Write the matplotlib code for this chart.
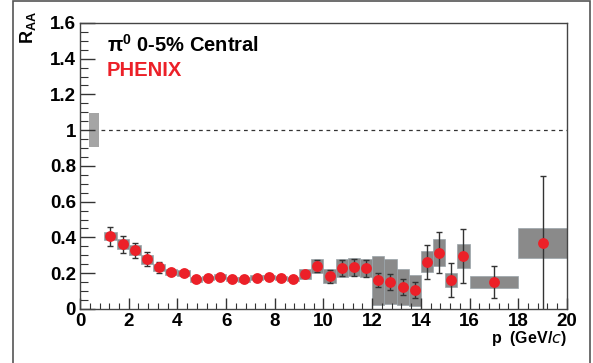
import matplotlib.pyplot as plt
from matplotlib.patches import Rectangle
from matplotlib.ticker import MultipleLocator

# pi0 R_AA, 0-5% central
pt = [1.25, 1.75, 2.25, 2.75, 3.25, 3.75, 4.25, 4.75, 5.25, 5.75, 6.25, 6.75,
      7.25, 7.75, 8.25, 8.75, 9.25, 9.75, 10.25, 10.75, 11.25, 11.75,
      12.25, 12.75, 13.25, 13.75, 14.25, 14.75, 15.25, 15.75, 17.0, 19.0]
bin_w = [0.5] * 30 + [2.0, 2.0]
raa = [0.407, 0.362, 0.329, 0.279, 0.232, 0.208, 0.200, 0.166, 0.173, 0.180,
       0.167, 0.165, 0.174, 0.178, 0.173, 0.167, 0.193, 0.240, 0.182, 0.227,
       0.232, 0.227, 0.162, 0.150, 0.124, 0.106, 0.264, 0.314, 0.162, 0.297,
       0.152, 0.368]
stat = [0.053, 0.048, 0.042, 0.037, 0.030, 0.015, 0.012, 0.010, 0.010, 0.010,
        0.010, 0.010, 0.010, 0.010, 0.010, 0.010, 0.015, 0.035, 0.037, 0.044,
        0.046, 0.046, 0.040, 0.046, 0.045, 0.046, 0.095, 0.115, 0.097, 0.150,
        0.090, 0.373]
sys_lo = [0.023, 0.028, 0.030, 0.025, 0.022, 0.016, 0.015, 0.013, 0.013, 0.013,
          0.013, 0.013, 0.013, 0.013, 0.013, 0.013, 0.028, 0.037, 0.039, 0.050,
          0.050, 0.050, 0.140, 0.122, 0.100, 0.090, 0.060, 0.075, 0.040, 0.066,
          0.034, 0.083]
sys_hi = [0.023, 0.028, 0.030, 0.025, 0.022, 0.016, 0.015, 0.013, 0.013, 0.013,
          0.013, 0.013, 0.013, 0.013, 0.013, 0.013, 0.028, 0.037, 0.039, 0.050,
          0.050, 0.050, 0.133, 0.129, 0.100, 0.085, 0.060, 0.075, 0.040, 0.066,
          0.034, 0.083]
norm_err = 0.097

font = 'Liberation Sans'
fig = plt.figure(figsize=(5.93, 3.63), dpi=100)
ax = fig.add_axes([0.135, 0.149, 0.821, 0.788])

# outer frame
fig.patches.append(Rectangle((0.022, -0.01), 0.973, 1.007, transform=fig.transFigure,
                             fill=False, edgecolor='#555555', linewidth=1.2))

# systematic boxes
for x, w, y, lo, hi in zip(pt, bin_w, raa, sys_lo, sys_hi):
    ax.add_patch(Rectangle((x - w / 2, y - lo), w, lo + hi, facecolor='#8a8a8a',
                           edgecolor='#9aa4aa', linewidth=0.5, zorder=1))

# normalisation uncertainty
ax.add_patch(Rectangle((0.38, 1 - norm_err), 0.41, 2 * norm_err, facecolor='#a5a5a5',
                       edgecolor='none', zorder=1))
ax.plot([0.85, 20], [1, 1], color='#333333', linestyle=(0, (3, 3)), linewidth=0.9)

ax.errorbar(pt, raa, yerr=stat, fmt='none', ecolor='#333333', elinewidth=1.0,
            capsize=2, capthick=1.0, zorder=2)
ax.plot(pt, raa, 'o', color='#ec2028', markersize=7.8, markeredgewidth=0, zorder=3)

ax.set_xlim(0, 20)
ax.set_ylim(0, 1.6)
ax.xaxis.set_major_locator(MultipleLocator(2))
ax.xaxis.set_minor_locator(MultipleLocator(0.4))
ax.yaxis.set_major_locator(MultipleLocator(0.2))
ax.yaxis.set_minor_locator(MultipleLocator(0.05))
ax.tick_params(which='both', direction='in', top=False, right=False, color='#333333')
ax.tick_params(axis='y', which='major', length=11, width=1.0)
ax.tick_params(axis='y', which='minor', length=6, width=0.8)
ax.tick_params(axis='x', which='major', length=8, width=1.0)
ax.tick_params(axis='x', which='minor', length=4, width=0.8)
ax.tick_params(labelsize=13.5, pad=3)
ax.set_yticks([0, 0.2, 0.4, 0.6, 0.8, 1, 1.2, 1.4, 1.6])
ax.set_yticklabels(['0', '0.2', '0.4', '0.6', '0.8', '1', '1.2', '1.4', '1.6'])
for lab in ax.get_xticklabels() + ax.get_yticklabels():
    lab.set_fontweight('bold')
    lab.set_family(font)
for s in ax.spines.values():
    s.set_color('#444444')
    s.set_linewidth(1.0)

ax.text(-0.086, 1.04, r'R$_{\mathregular{AA}}$', transform=ax.transAxes, rotation=90,
        ha='right', va='top', fontsize=13, fontweight='bold', family=font)
ax.text(1.0, -0.07, r'p  (GeV/$\it{c}$)', transform=ax.transAxes, ha='right', va='top',
        fontsize=11.5, fontweight='bold', family=font)

ax.text(1.1, 1.477, 'π$^{\\mathregular{0}}$ 0-5% Central', fontsize=14.5, fontweight='bold',
        family=font, va='center')
ax.text(1.1, 1.332, 'PHENIX', fontsize=14.5, fontweight='bold', color='#ec2028',
        family=font, va='center')

fig.savefig('out.png', dpi=100)
